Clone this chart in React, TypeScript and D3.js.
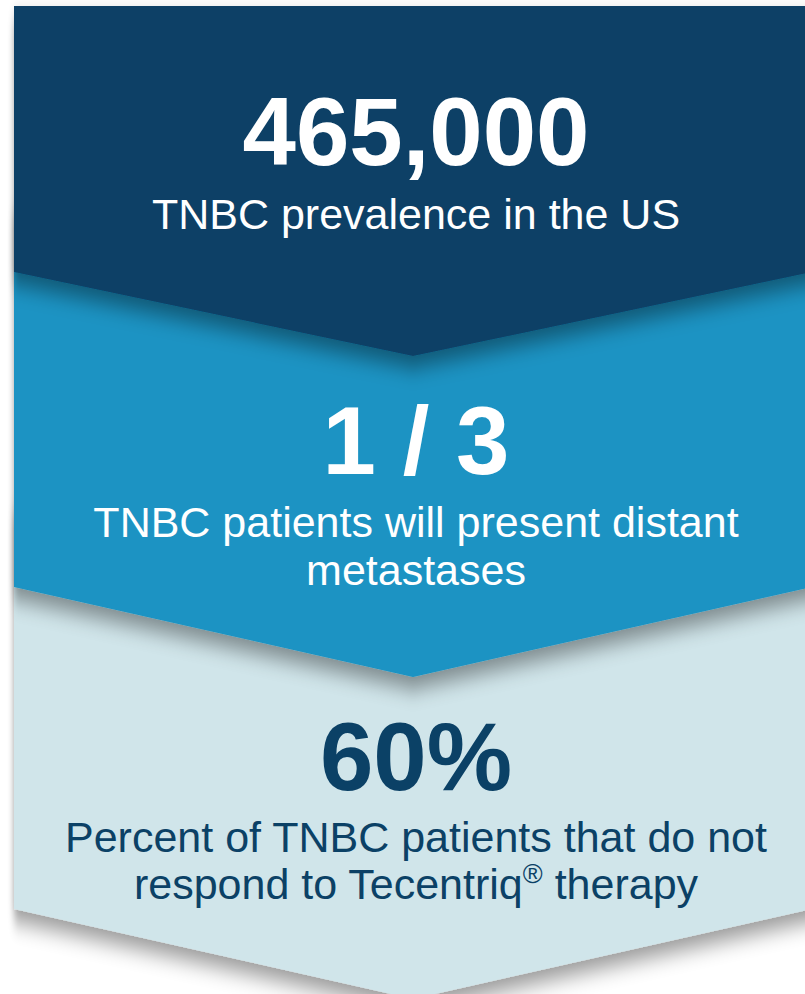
import React from "react";
import * as d3 from "d3";

const W = 805;
const H = 994;

// Data
const statValues = ["465,000", "1 / 3", "60%"];
const statLabelLines = [
  ["TNBC prevalence in the US"],
  ["TNBC patients will present distant", "metastases"],
  ["Percent of TNBC patients that do not", "respond to Tecentriq|® therapy"],
];
const panelColors = ["#0b4166", "#1a93c3", "#d0e5ea"];
const textColors = ["#ffffff", "#ffffff", "#0b4166"];
// chevron geometry: [top, sideBottom, tip]
const panelGeom = [
  [6, 272, 356],
  [200, 587, 677],
  [500, 909, 999],
];
const valueBaselines = [165, 474, 790];
const labelBaselines = [[229], [537, 585], [852, 899]];

export default function App() {
  const x = d3.scaleLinear().domain([0, 1]).range([14, 812]);
  const line = d3.line<[number, number]>();
  const cx = 416;

  const panels = panelGeom.map(([t, s, tip]) =>
    line([
      [x(0), t],
      [x(1), t],
      [x(1), s],
      [(x(0) + x(1)) / 2, tip],
      [x(0), s],
    ]) + "Z"
  );

  const font = "'Liberation Sans', Arial, Helvetica, sans-serif";

  return (
    <svg
      width={W}
      height={H}
      viewBox={`0 0 ${W} ${H}`}
      style={{ position: "absolute", left: 0, top: 0, display: "block", background: "#ffffff" }}
    >
      <defs>
        <filter id="sh" x="-10%" y="-10%" width="130%" height="140%">
          <feGaussianBlur in="SourceAlpha" stdDeviation="3 11" />
          <feOffset dx="0" dy="12" result="b" />
          <feComponentTransfer>
            <feFuncA type="linear" slope="0.4" />
          </feComponentTransfer>
          <feMerge>
            <feMergeNode />
            <feMergeNode in="SourceGraphic" />
          </feMerge>
        </filter>
      </defs>
      {[2, 1, 0].map((i) => (
        <path key={i} d={panels[i]} fill={panelColors[i]} filter="url(#sh)" />
      ))}
      {statValues.map((v, i) => (
        <g key={"t" + i} fill={textColors[i]} fontFamily={font} textAnchor="middle">
          <text x={cx} y={valueBaselines[i]} fontSize={96} fontWeight="bold">
            {v}
          </text>
          {statLabelLines[i].map((l, j) => {
            const parts = l.split("|");
            return (
              <text key={j} x={cx} y={labelBaselines[i][j]} fontSize={43}>
                {parts.length > 1 ? (
                  <>
                    {parts[0]}
                    <tspan fontSize={27} dy={-16}>
                      {parts[1].slice(0, 1)}
                    </tspan>
                    <tspan dy={16}>{parts[1].slice(1)}</tspan>
                  </>
                ) : (
                  l
                )}
              </text>
            );
          })}
        </g>
      ))}
    </svg>
  );
}
